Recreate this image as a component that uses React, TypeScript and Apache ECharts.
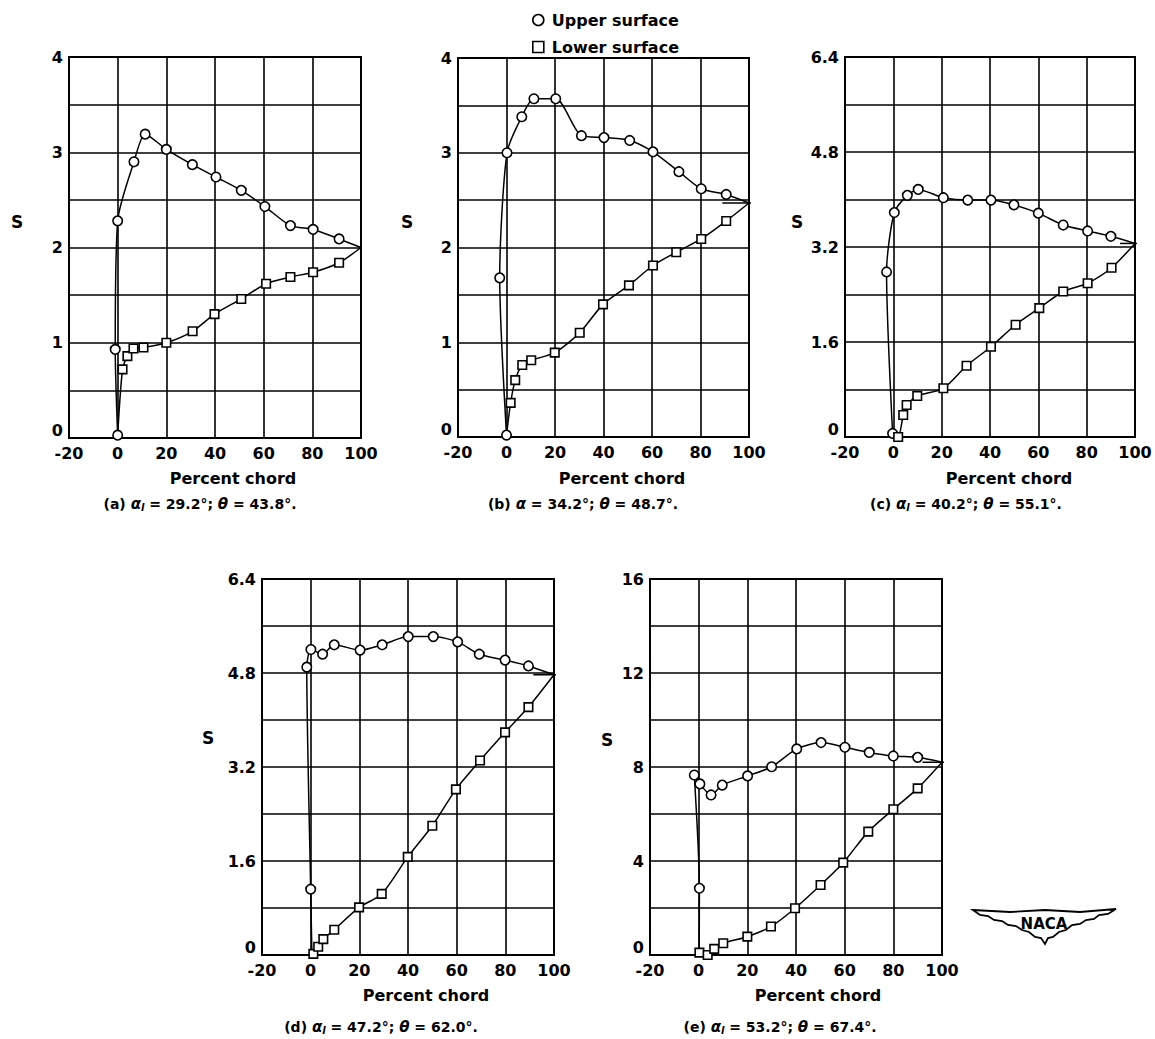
import React, { useEffect, useRef } from "react";
import * as echarts from "echarts";

type P = [number, number];

// ---------- shared axis ticks ----------
const xTicks = [-20, 0, 20, 40, 60, 80, 100];
const yMaxes = [4, 4, 6.4, 6.4, 16];
const yIntervals = [0.5, 0.5, 0.8, 0.8, 2];

// ---------- panel (a) ----------
const stagA: P = [0, 0.03];
const upperA: P[] = [[0, 0.03], [-1, 0.93], [0, 2.28], [6.7, 2.9], [11.3, 3.19], [20, 3.03], [30.7, 2.87], [40.4, 2.74], [50.8, 2.6], [60.5, 2.43], [71, 2.23], [80.3, 2.19], [91, 2.09]];
const lowerA: P[] = [[2, 0.72], [4, 0.86], [6.5, 0.94], [10.6, 0.95], [20, 1.0], [30.8, 1.12], [39.8, 1.3], [50.8, 1.46], [61, 1.62], [71, 1.69], [80.3, 1.74], [91, 1.84]];
const teA = 2.0;
const stubA: number[] = [];

// ---------- panel (b) ----------
const stagB: P = [0, 0.02];
const upperB: P[] = [[0, 0.02], [-2.8, 1.68], [0.2, 3.0], [6.3, 3.38], [11.3, 3.57], [20.3, 3.57], [30.9, 3.18], [40.2, 3.16], [50.8, 3.13], [60.4, 3.01], [71.1, 2.8], [80.3, 2.62], [90.6, 2.56]];
const lowerB: P[] = [[1.7, 0.36], [3.6, 0.6], [6.5, 0.76], [10.2, 0.81], [19.9, 0.89], [30.2, 1.1], [39.8, 1.4], [50.5, 1.6], [60.4, 1.81], [70, 1.95], [80.3, 2.09], [90.6, 2.28]];
const teB = 2.47;
const stubB = [89, 106.5];

// ---------- panel (c) ----------
const stagC: P = [-0.3, 0.06];
const upperC: P[] = [[-0.3, 0.06], [-2.8, 2.78], [0.4, 3.78], [5.8, 4.07], [10.3, 4.17], [20.7, 4.03], [30.8, 3.99], [40.4, 3.99], [49.9, 3.91], [60, 3.77], [70.3, 3.57], [80.4, 3.47], [90, 3.38]];
const lowerC: P[] = [[2, 0.0], [4.1, 0.37], [5.5, 0.54], [9.9, 0.69], [20.7, 0.82], [30.3, 1.2], [40.4, 1.52], [50.6, 1.89], [60.4, 2.17], [70.3, 2.45], [80.4, 2.59], [90.3, 2.85]];
const teC = 3.26;
const stubC = [93.8, 106];

// ---------- panel (d) ----------
const stagD: P = [0.5, 0.03];
const upperD: P[] = [[0, 1.12], [-1.6, 4.9], [0.1, 5.2], [4.9, 5.12], [9.7, 5.28], [20.3, 5.19], [29.4, 5.28], [40.1, 5.42], [50.4, 5.42], [60.4, 5.33], [69.3, 5.12], [79.9, 5.02], [89.5, 4.92]];
const lowerD: P[] = [[1.1, 0.02], [3.1, 0.14], [5.2, 0.27], [9.7, 0.43], [19.9, 0.81], [29.2, 1.04], [39.9, 1.67], [50, 2.2], [59.7, 2.82], [69.6, 3.31], [79.9, 3.79], [89.5, 4.22]];
const teD = 4.77;
const stubD = [91.5, 107];

// ---------- panel (e) ----------
const stagE: P = [0.2, 0.05];
const upperE: P[] = [[0.3, 2.84], [-1.8, 7.66], [0.5, 7.28], [5.1, 6.81], [9.7, 7.23], [20.1, 7.62], [30, 8.01], [40.3, 8.77], [50.3, 9.04], [60.1, 8.84], [70.1, 8.62], [80, 8.47], [90, 8.41]];
const lowerE: P[] = [[0.3, 0.1], [3.7, 0.0], [6.4, 0.26], [10.1, 0.5], [20, 0.78], [29.7, 1.21], [39.6, 1.99], [50.1, 2.98], [59.4, 3.93], [69.7, 5.25], [80, 6.2], [90, 7.09]];
const teE = 8.2;
const stubE = [92, 106.5];

// ---------- texts ----------
const captions = [
  "(a) {i|α}{s|l} = 29.2°; {i|θ} = 43.8°.",
  "(b) {i|α} = 34.2°; {i|θ} = 48.7°.",
  "(c) {i|α}{s|l} = 40.2°; {i|θ} = 55.1°.",
  "(d) {i|α}{s|l} = 47.2°; {i|θ} = 62.0°.",
  "(e) {i|α}{s|l} = 53.2°; {i|θ} = 67.4°.",
];
const xName = "Percent chord";
const yName = "S";
const legendNames = ["Upper surface", "Lower surface"];

// ---------- layout (positions only) ----------
const grids = [
  { left: 69, top: 57, width: 292, height: 381 },
  { left: 458, top: 58, width: 291, height: 379 },
  { left: 845, top: 57, width: 290, height: 380 },
  { left: 262, top: 579, width: 292, height: 376 },
  { left: 650, top: 579, width: 292, height: 376 },
];
const sPos = [[17, 222], [407, 222], [797, 222], [208, 738], [607, 740]];
const captionPos = [[200, 504], [583, 504], [966, 504], [381, 1027], [780, 1027]];
const xNamePos = [[233, 478], [622, 478], [1009, 478], [426, 995], [818, 995]];

const FONT = "DejaVu Sans";

const stags = [stagA, stagB, stagC, stagD, stagE];
const uppers = [upperA, upperB, upperC, upperD, upperE];
const lowers = [lowerA, lowerB, lowerC, lowerD, lowerE];
const tes = [teA, teB, teC, teD, teE];
const stubs = [stubA, stubB, stubC, stubD, stubE];

function fmt(v: number) {
  return String(parseFloat(v.toFixed(2)));
}

export default function App() {
  const ref = useRef<HTMLDivElement>(null);
  useEffect(() => {
    if (!ref.current) return;
    const chart = echarts.init(ref.current, undefined, { renderer: "svg" });

    const grid: any[] = [];
    const xAxis: any[] = [];
    const yAxis: any[] = [];
    const series: any[] = [];
    const graphic: any[] = [];

    const labelStyle = { color: "#000", fontSize: 16, fontWeight: "bold", fontFamily: FONT };

    for (let i = 0; i < 5; i++) {
      grid.push({
        ...grids[i],
        containLabel: false,
        outerBoundsMode: "none",
        show: true,
        borderColor: "#000",
        borderWidth: 2,
        backgroundColor: "#fff",
      });
      xAxis.push({
        type: "value",
        gridIndex: i,
        min: xTicks[0],
        max: xTicks[xTicks.length - 1],
        interval: xTicks[1] - xTicks[0],
        axisLine: { show: false },
        axisTick: { show: false },
        axisLabel: { ...labelStyle, margin: 7, alignMinLabel: "center" },
        splitLine: { show: true, lineStyle: { color: "#000", width: 1.6 } },
      });
      yAxis.push({
        type: "value",
        gridIndex: i,
        min: 0,
        max: yMaxes[i],
        interval: yIntervals[i],
        axisLine: { show: false },
        axisTick: { show: false },
        axisLabel: {
          ...labelStyle,
          margin: 6,
          verticalAlignMinLabel: "bottom",
          formatter: (v: number, idx: number) => (idx % 2 === 0 ? fmt(v) : ""),
        },
        splitLine: { show: true, lineStyle: { color: "#000", width: 1.6 } },
      });

      const te: P = [100, tes[i]];
      series.push({
        type: "line",
        name: "upper-curve",
        xAxisIndex: i,
        yAxisIndex: i,
        data: [stags[i], ...uppers[i], te],
        showSymbol: false,
        smooth: 0.25,
        lineStyle: { color: "#000", width: 1.5 },
        z: 3,
        silent: true,
      });
      series.push({
        type: "line",
        name: "lower-curve",
        xAxisIndex: i,
        yAxisIndex: i,
        data: [stags[i], ...lowers[i], te],
        showSymbol: false,
        smooth: 0.25,
        lineStyle: { color: "#000", width: 1.5 },
        z: 3,
        silent: true,
      });
      if (stubs[i].length === 2) {
        series.push({
          type: "line",
          name: "te-stub",
          xAxisIndex: i,
          yAxisIndex: i,
          data: [[stubs[i][0], tes[i]], [stubs[i][1], tes[i]]],
          showSymbol: false,
          clip: false,
          lineStyle: { color: "#000", width: 1.5 },
          z: 3,
          silent: true,
        });
      }
      series.push({
        type: "scatter",
        name: legendNames[0],
        xAxisIndex: i,
        yAxisIndex: i,
        data: uppers[i],
        symbol: "circle",
        symbolSize: 9.5,
        itemStyle: { color: "#fff", borderColor: "#000", borderWidth: 1.6, opacity: 1 },
        z: 4,
      });
      series.push({
        type: "scatter",
        name: legendNames[1],
        xAxisIndex: i,
        yAxisIndex: i,
        data: lowers[i],
        symbol: "rect",
        symbolSize: 8.5,
        itemStyle: { color: "#fff", borderColor: "#000", borderWidth: 1.6, opacity: 1 },
        z: 4,
      });

      graphic.push({
        type: "text",
        x: sPos[i][0],
        y: sPos[i][1],
        style: {
          text: yName,
          font: `bold 17px "${FONT}"`,
          fill: "#000",
          align: "center",
          verticalAlign: "middle",
        },
      });
      graphic.push({
        type: "text",
        x: xNamePos[i][0],
        y: xNamePos[i][1],
        style: {
          text: xName,
          font: `bold 16px "${FONT}"`,
          fill: "#000",
          align: "center",
          verticalAlign: "middle",
        },
      });
      graphic.push({
        type: "text",
        x: captionPos[i][0],
        y: captionPos[i][1],
        style: {
          text: captions[i],
          fontFamily: FONT,
          fontSize: 14,
          fontWeight: "bold",
          fill: "#000",
          align: "center",
          verticalAlign: "middle",
          rich: {
            i: { fontFamily: FONT, fontSize: 15, fontStyle: "italic", fontWeight: "bold", fill: "#000" },
            s: { fontFamily: FONT, fontSize: 10, fontStyle: "italic", fontWeight: "bold", fill: "#000", verticalAlign: "bottom", padding: [6, 0, 0, 0] },
          },
        },
      });
    }

    // NACA logo
    graphic.push({
      type: "polygon",
      shape: {
        points: [
          [973, 910], [1010, 912], [1045, 910], [1080, 912], [1116, 909],
          [1108, 914], [1099, 915], [1094, 919], [1086, 920], [1080, 924],
          [1072, 925], [1066, 930], [1059, 932], [1053, 937], [1048, 938],
          [1045, 944], [1041, 938], [1035, 937], [1029, 932], [1022, 930],
          [1016, 926], [1008, 925], [1002, 921], [994, 920], [988, 916],
          [980, 915],
        ],
      },
      style: { fill: "#fff", stroke: "#000", lineWidth: 1.8 },
    });
    graphic.push({
      type: "text",
      x: 1044,
      y: 924,
      style: {
        text: "NACA",
        font: `bold 15px "Liberation Sans Narrow", "${FONT}"`,
        fill: "#000",
        align: "center",
        verticalAlign: "middle",
      },
    });

    chart.setOption({
      animation: false,
      backgroundColor: "#fff",
      textStyle: { fontFamily: FONT },
      legend: {
        data: [
          { name: legendNames[0], icon: "circle" },
          { name: legendNames[1], icon: "rect" },
        ],
        orient: "vertical",
        left: 527,
        top: 7,
        itemWidth: 11,
        itemHeight: 11,
        itemGap: 11,
        selectedMode: false,
        itemStyle: { color: "#fff", borderColor: "#000", borderWidth: 1.6 },
        textStyle: { color: "#000", fontSize: 16, fontWeight: "bold", fontFamily: FONT, padding: [0, 0, 0, 3] },
      },
      grid,
      xAxis,
      yAxis,
      series,
      graphic,
    });

    return () => {
      chart.dispose();
    };
  }, []);

  return (
    <div
      ref={ref}
      style={{ position: "absolute", left: 0, top: 0, width: 1155, height: 1039 }}
    />
  );
}
